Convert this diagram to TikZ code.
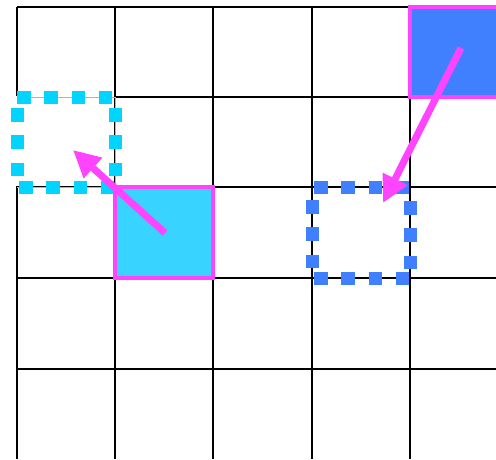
\documentclass[tikz,border=0pt]{standalone}
\usetikzlibrary{arrows.meta}
\definecolor{mag}{HTML}{FF44FF}
\definecolor{cyanfill}{HTML}{38D4FF}
\definecolor{cyandash}{HTML}{00D4FF}
\definecolor{bluefill}{HTML}{4080FF}
\tikzset{
  gridline/.style={black, line width=2.6pt},
  cyandots/.style={cyandash, line width=13pt, dash pattern=on 13.5pt off 13.8pt},
  bluedots/.style={bluefill, line width=13pt, dash pattern=on 13.5pt off 13.8pt},
  movearrow/.style={mag, line width=7pt, -{Triangle[length=27pt,width=26pt]}},
  cellbox/.style={draw=mag, line width=3.8pt}
}
\begin{document}
\begin{tikzpicture}[x=1pt,y=-1pt]
\useasboundingbox (0,0) rectangle (496,459);
\fill[white] (0,0) rectangle (496,459);
% grid
\foreach \x in {17,115,213,312,410} \draw[gridline] (\x,7) -- (\x,459);
\foreach \y in {7,97,187,278,369} \draw[gridline] (17,\y) -- (496,\y);
% cyan dashed (empty) cell
\fill[white] (10,96) rectangle (114,186);
\draw[gray!60, line width=1pt] (17,97) -- (115,97) -- (115,187) -- (17,187);
\draw[cyandots] (17,97) -- (115,97);
\draw[cyandots] (17,108) -- (17,187);
\draw[cyandots] (115,108) -- (115,187);
\draw[cyandots] (19,187) -- (115,187);
% blue dashed (empty) cell
\draw[bluedots] (314,187) -- (410,187);
\draw[bluedots] (312,200) -- (312,278);
\draw[bluedots] (410,201) -- (410,278);
\draw[bluedots] (314,278) -- (410,278);
% filled cells
\node[cellbox, fill=cyanfill, minimum width=98pt, minimum height=91pt, inner sep=0pt, outer sep=0pt] (cyancell) at (164,232.5) {};
\node[cellbox, fill=bluefill, minimum width=98pt, minimum height=90pt, inner sep=0pt, outer sep=0pt] (bluecell) at (459,52) {};
% arrow ends
\coordinate (cyantip) at (73,150);
\coordinate (bluetip) at (383,203);
\coordinate (cyanstart) at (165,233);
\coordinate (bluestart) at (461,48);
\draw[movearrow] (cyanstart) -- (cyantip);
\draw[movearrow] (bluestart) -- (bluetip);
\end{tikzpicture}
\end{document}
